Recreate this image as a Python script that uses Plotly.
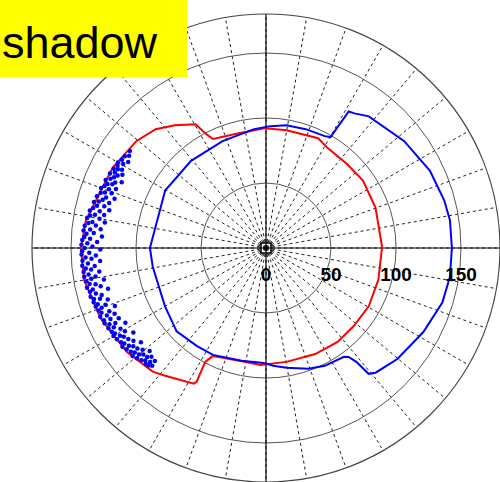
import plotly.graph_objects as go

# ---- data (theta in degrees, r in plot units) ----
red_theta = [0.5, 20.3, 34.8, 46.2, 58.3, 64.6, 80.1, 90.2, 103.4, 115.9, 117.7, 119.6,
             126.6, 132.9, 140.4, 152.4, 171.3, 180, 189.9, 203.4, 216.8, 227.5, 231.7,
             242, 242.6, 241.9, 243.8, 259.3, 267.4, 280.2, 294.9, 307.1, 318.2, 330.4,
             344.2, 360.5]
red_r = [89.3, 89.8, 90.8, 89.7, 90.3, 93.5, 92, 92.2, 90.8, 93.2, 98.9, 109.5,
         117.7, 124.7, 129.2, 133.2, 140.2, 142.3, 142.2, 138.2, 133.6, 129, 125.2,
         118.2, 115.8, 99.3, 92.5, 89.1, 90, 89, 89.9, 90.8, 90.3, 90.9,
         89.8, 89.3]

blue_theta = [0, 8.6, 15, 25.2, 37.7, 52, 56.7, 58.8, 59.8, 62.3, 71.5, 80.5, 88,
              95.7, 112.1, 130.7, 150.3, 180, 189.4, 210, 223, 234.7, 243.6, 257.8,
              268.8, 273.5, 279.7, 289.4, 296.5, 305.6, 307.2, 308.4, 309.2, 311.3,
              319.8, 331.9, 342.8, 351.1, 360]
blue_r = [143, 143.1, 141.9, 139.4, 134.4, 128.5, 123.9, 122.8, 98.7, 97.2, 96.4, 95.7, 93.8,
          91.9, 88.8, 88.4, 89.3, 89.3, 88.3, 89.7, 94, 92.3, 91.8, 88.8,
          88.4, 90.8, 93.5, 98.5, 101.3, 103, 105.2, 111.8, 124.9, 127.7,
          132.3, 137.2, 142, 143.2, 143]

dots_theta = [144.5, 146, 147, 148, 148.5, 149.5, 150, 151, 151.5, 152, 152.5, 153, 153.5,
              154, 154.5, 155, 155.5, 156, 156.5, 157, 157.5, 158, 158.5, 159, 159.5,
              160, 160.5, 161, 161.5, 162, 162.5, 163, 163.5, 164, 164.5, 165, 165.5,
              166, 166.5, 167, 167.5, 168, 168.5, 169, 169.5, 170, 170.5, 171, 171.5,
              172, 172.5, 173, 173.5, 174, 174.5, 175, 175.5, 176, 176.5, 177, 177.5,
              178, 178.5, 179, 179.5, 180, 180.5, 181, 181.5, 182, 182.5, 183, 183.5,
              184, 184.5, 185, 185.5, 186, 186.5, 187, 187.5, 188, 188.5, 189, 189.5,
              190, 190.5, 191, 191.5, 192, 192.5, 193, 193.5, 194, 194.5, 195, 195.5,
              196, 196.5, 197, 197.5, 198, 198.5, 199, 199.5, 200, 200.5, 201, 201.5,
              202, 202.5, 203, 203.5, 204, 204.5, 205, 205.5, 206, 206.5, 207, 207.5,
              208, 208.5, 209, 209.5, 210, 210.5, 211, 211.5, 212, 212.5, 213, 213.5,
              214, 214.5, 215, 215.5, 216, 216.5, 217, 217.5, 218, 218.5, 219, 219.5,
              220, 220.5, 221, 221.5, 222, 222.5, 223, 223.5, 224, 224.5, 225, 225.5, 226]
dots_r = [128.6, 127, 129.5, 125, 130, 127.5, 131.5, 130.6, 126, 129, 132, 124, 130,
          127, 133, 129, 122, 131, 126.5, 134, 128, 131.5, 124, 133, 129,
          135, 126, 131, 134, 122.5, 129, 136, 131, 125.5, 133.5, 137, 128.5,
          134, 124, 136.5, 131, 138.5, 127, 134, 137.5, 130, 139.5, 125.5, 135,
          138, 132, 140.5, 128, 136, 141, 133, 138.5, 126.5, 140, 135.5, 141.5,
          130, 137.5, 142, 133.5, 139.5, 127.5, 141.5, 136, 142, 131, 139, 134.5,
          141.5, 128, 137.5, 142, 132.5, 139.5, 135.5, 141.5, 129.5, 138, 141.5, 133,
          136.5, 140.5, 127, 138.5, 134, 141, 130.5, 137, 139.5, 125.5, 135.5, 140,
          131.5, 138, 133.5, 139, 128, 136.5, 138.5, 131, 134.5, 137.5, 124.5, 136,
          130, 138, 133, 127, 136.5, 131.5, 137, 125.5, 134, 129.5, 136, 132,
          122.5, 135, 128, 133.5, 135.5, 126, 131, 134.5, 129, 121, 133, 127,
          131.5, 134, 124.5, 129.5, 132.5, 127, 120.5, 131, 125.5, 129, 132, 123,
          127.5, 130.5, 125, 119.5, 129, 124, 127, 121.5, 128.5, 125, 127.7, 122, 126]

radial_ticks = [0, 50, 100, 150]
radial_labels = ["0", "50", "100", "150"]
axis_angles = [0, 90]
title_text = "shadow"

fig = go.Figure()

# solid cross-hair axes through the centre
for a in axis_angles:
    fig.add_trace(go.Scatterpolar(r=[180, 0, 180], theta=[a, a, a + 180], mode="lines",
                                  line=dict(color="black", width=1.2),
                                  hoverinfo="skip", showlegend=False))

fig.add_trace(go.Scatterpolar(r=[0], theta=[0], mode="markers",
                              marker=dict(symbol="square-open-dot", size=10, color="black",
                                          line=dict(width=1.5, color="black")),
                              hoverinfo="skip", showlegend=False))

fig.add_trace(go.Scatterpolar(r=red_r, theta=red_theta, mode="lines",
                              line=dict(color="#ff0000", width=2), showlegend=False))
fig.add_trace(go.Scatterpolar(r=blue_r, theta=blue_theta, mode="lines",
                              line=dict(color="#0000ff", width=2), showlegend=False))
fig.add_trace(go.Scatterpolar(r=dots_r, theta=dots_theta, mode="markers",
                              marker=dict(color="#0000ff", size=4.5), showlegend=False))

fig.update_layout(
    width=500, height=482,
    margin=dict(l=0, r=0, t=0, b=0),
    paper_bgcolor="white",
    showlegend=False,
    polar=dict(
        domain=dict(x=[32 / 500, 1], y=[0, 468 / 482]),
        bgcolor="white",
        radialaxis=dict(range=[0, 180], tickvals=radial_ticks, ticktext=radial_labels,
                        angle=0, side="clockwise", showline=False,
                        ticks="outside", ticklen=10, tickcolor="rgba(0,0,0,0)",
                        gridcolor="#555555", gridwidth=1.2,
                        tickfont=dict(family="Liberation Sans, Arial", size=19,
                                      color="black", weight="bold")),
        angularaxis=dict(tickmode="linear", tick0=0, dtick=10, showticklabels=False,
                         ticks="", griddash="3px,3px", gridcolor="#222222", gridwidth=1,
                         showline=True, linecolor="#444444", linewidth=1.2,
                         rotation=0, direction="counterclockwise"),
    ),
    shapes=[dict(type="rect", xref="paper", yref="paper", x0=0, x1=187 / 500,
                 y0=1 - 77 / 482, y1=1, fillcolor="#ffff00", line=dict(width=0),
                 layer="above")],
    annotations=[dict(text=title_text, xref="paper", yref="paper", x=0,
                      y=1 - 42 / 482, xanchor="left", yanchor="middle", showarrow=False,
                      font=dict(family="Liberation Sans, Arial", size=45, color="black"))],
)

fig.write_html("out.html", config={"displayModeBar": False},
               post_script="document.body.style.margin='0';")
